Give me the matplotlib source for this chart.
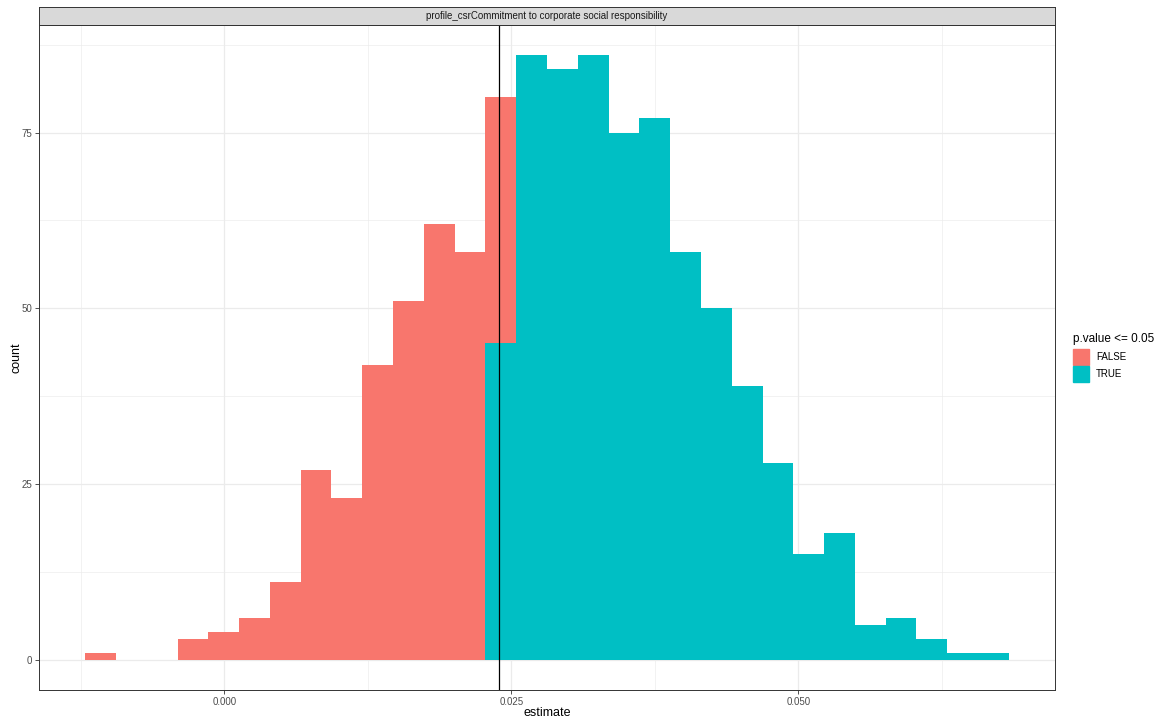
import matplotlib.pyplot as plt
import numpy as np

plt.rcParams['font.family'] = ['Liberation Sans', 'DejaVu Sans']

# histogram bins (30 bins)
bin_start = -0.01211
bin_width = 0.002681
count_false = [1, 0, 0, 3, 4, 6, 11, 27, 23, 42, 51, 62, 58, 35, 0,
               0, 0, 0, 0, 0, 0, 0, 0, 0, 0, 0, 0, 0, 0, 0]
count_true = [0, 0, 0, 0, 0, 0, 0, 0, 0, 0, 0, 0, 0, 45, 86,
              84, 86, 75, 77, 58, 50, 39, 28, 15, 18, 5, 6, 3, 1, 1]
vline_x = 0.02395

x_ticks = [0.000, 0.025, 0.050]
x_ticklabels = ['0.000', '0.025', '0.050']
y_ticks = [0, 25, 50, 75]
strip_label = 'profile_csrCommitment to corporate social responsibility'

col_false = '#F8766D'
col_true = '#00BFC4'

fig = plt.figure(figsize=(11.56, 7.23), dpi=100)
W, H = 1156, 723
ax = fig.add_axes([39 / W, 1 - 690 / H, (1055 - 39) / W, (690 - 25) / H])

edges = bin_start + bin_width * np.arange(len(count_true))
ct = np.array(count_true)
cf = np.array(count_false)
ax.bar(edges, ct, width=bin_width, align='edge', color=col_true, linewidth=0, zorder=3)
ax.bar(edges, cf, width=bin_width, bottom=ct, align='edge', color=col_false, linewidth=0, zorder=3)
ax.axvline(vline_x, color='black', linewidth=0.9, zorder=4)

xmin, xmax = bin_start, bin_start + bin_width * len(ct)
pad = 0.05 * (xmax - xmin)
ax.set_xlim(xmin - pad, xmax + pad)
ymax = (ct + cf).max()
ax.set_ylim(-0.05 * ymax, ymax * 1.05)

ax.set_xticks(x_ticks)
ax.set_xticklabels(x_ticklabels)
ax.set_yticks(y_ticks)
ax.set_xticks([-0.0125, 0.0125, 0.0375, 0.0625], minor=True)
ax.set_yticks([12.5, 37.5, 62.5, 87.5], minor=True)
ax.grid(which='major', color='#EBEBEB', linewidth=0.9, zorder=0)
ax.grid(which='minor', color='#EBEBEB', linewidth=0.45, zorder=0)
ax.set_axisbelow(True)
ax.tick_params(which='minor', length=0)
ax.tick_params(which='major', length=3, width=0.6, color='#333333',
               labelsize=7, labelcolor='#4D4D4D', pad=2)
for s in ax.spines.values():
    s.set_color('#333333')
    s.set_linewidth(0.7)

ax.set_xlabel('estimate', fontsize=9, labelpad=0)
ax.set_ylabel('count', fontsize=9, labelpad=-1)

# facet strip
sax = fig.add_axes([39 / W, 1 - 25 / H, (1055 - 39) / W, 18 / H])
sax.set_facecolor('#D9D9D9')
sax.set_xticks([])
sax.set_yticks([])
for s in sax.spines.values():
    s.set_color('#333333')
    s.set_linewidth(0.7)
sax.text(0.5, 0.5, strip_label, ha='center', va='center', fontsize=7, color='#1A1A1A',
         transform=sax.transAxes)

# legend
fig.text(1073 / W, 1 - 339 / H, 'p.value <= 0.05', fontsize=8.5, va='center', ha='left')
for i, (lab, c) in enumerate([('FALSE', col_false), ('TRUE', col_true)]):
    yc = 357 + i * 17
    fig.patches.append(plt.Rectangle((1073 / W, 1 - (yc + 8) / H), 16 / W, 16 / H,
                                     transform=fig.transFigure, color=c, figure=fig))
    fig.text(1096 / W, 1 - yc / H, lab, fontsize=7, va='center', ha='left')

fig.savefig('out.png', dpi=100)
